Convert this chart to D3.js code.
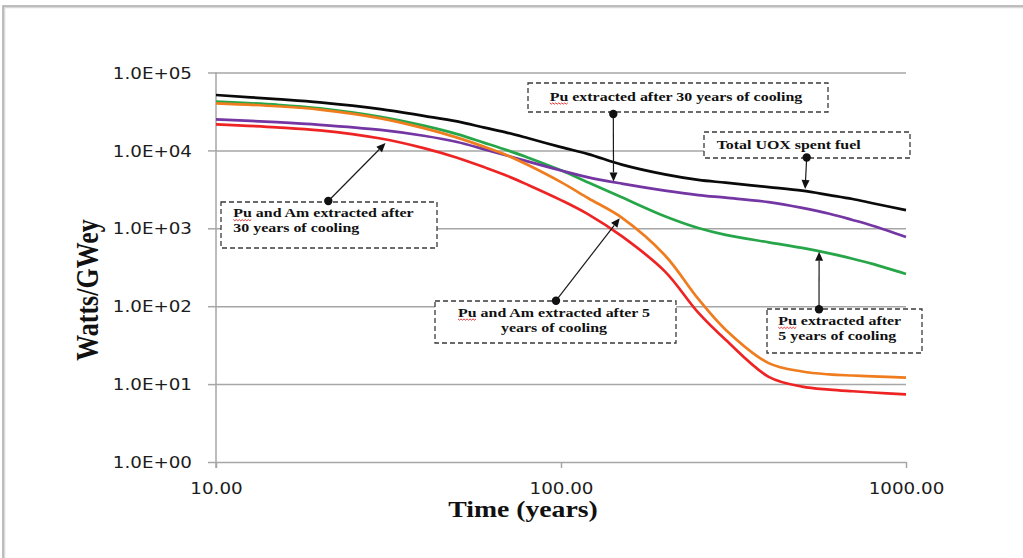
<!DOCTYPE html>
<html>
<head>
<meta charset="utf-8">
<script src="https://cdn.jsdelivr.net/npm/d3@7"></script>
<style>
  html, body { margin: 0; padding: 0; background: #ffffff; }
  svg { display: block; }
</style>
</head>
<body>
<script>
// Decay heat of UOX spent fuel (Watts/GWey) versus time after discharge.
const years = [10, 15, 20, 30, 40, 50, 60, 70, 80, 100, 120, 150, 200, 250, 300, 400, 500, 600, 700, 800, 1000];

const totalUOX   = [51400, 45500, 41300, 33900, 27800, 23600, 19600, 16800, 14400, 11000, 8970, 6570, 4920, 4180, 3850, 3380, 3040, 2670, 2380, 2100, 1710];
const pu5        = [42400, 38600, 34700, 27000, 20800, 16200, 12500, 10000, 8130, 5550, 3860, 2500, 1430, 1010, 825, 661, 560, 477, 407, 349, 259];
const pu30       = [25000, 23000, 21300, 18300, 15400, 12800, 10300, 8550, 7220, 5520, 4510, 3750, 3050, 2670, 2470, 2170, 1830, 1540, 1280, 1080, 775];
const puAm5      = [40200, 36900, 33400, 25800, 19300, 14600, 11100, 8600, 6530, 3910, 2430, 1370, 451, 124, 50.0, 18.6, 14.5, 13.3, 12.9, 12.6, 12.1];
const puAm30     = [21600, 19800, 18100, 14200, 10700, 8060, 6060, 4690, 3630, 2300, 1510, 792, 280, 82.5, 37.0, 12.4, 9.29, 8.50, 8.10, 7.80, 7.37];

const xTicks = [10, 100, 1000];
const xTickLabels = ["10.00", "100.00", "1000.00"];
const yTicks = [1, 10, 100, 1000, 10000, 100000];
const yTickLabels = ["1.0E+00", "1.0E+01", "1.0E+02", "1.0E+03", "1.0E+04", "1.0E+05"];

const xTitle = "Time (years)";
const yTitle = "Watts/GWey";

// Callout boxes: label lines and the point (time, value) each arrow points to.
const noteLines = [
  ["Pu extracted after 30 years of cooling"],
  ["Total UOX spent fuel"],
  ["Pu and Am extracted after", "30 years of cooling"],
  ["Pu and Am extracted after 5", "years of cooling"],
  ["Pu extracted after", "5 years of cooling"]
];
const noteTargetYears  = [142, 510, 31, 148, 560];
const noteTargetValues = [4000, 3200, 12400, 1350, 500];

// ---- layout ----
const W = 1023, H = 558;
const SX = 1.18;               // horizontal text stretch
const GRID = "#a6a6a6";
const TICK_FONT = "'DejaVu Sans', Verdana, sans-serif";
const SERIF = "'Liberation Serif', 'Times New Roman', serif";

const noteLayout = [
  { box: [528, 83, 300, 29],  anchor: "middle", tx: 676,   ty: [100.7],        dot: [613.3, 114] },
  { box: [704, 132, 206, 26], anchor: "start",  tx: 716.7, ty: [149.3],        dot: [806.7, 157.5] },
  { box: [221, 202, 216, 46], anchor: "start",  tx: 233.3, ty: [217.3, 231.7], dot: [328.3, 201] },
  { box: [435, 301, 241, 42], anchor: "middle", tx: 554,   ty: [316.7, 331.7], dot: [556, 300.7] },
  { box: [767, 309, 155, 44], anchor: "start",  tx: 778.3, ty: [325, 340],     dot: [819, 309.3] }
];

const svg = d3.select("body").append("svg").attr("width", W).attr("height", H);
svg.append("rect").attr("width", W).attr("height", H).attr("fill", "#fff");

// outer frame (top and left edges)
svg.append("path").attr("d", `M4.5,${H} V7.5 H${W}`).attr("fill", "none").attr("stroke", "#d9d9d9").attr("stroke-width", 1.5);
svg.append("path").attr("d", `M3,${H} V6 H${W}`).attr("fill", "none").attr("stroke", "#a9a9a9").attr("stroke-width", 1.5);

const x = d3.scaleLog().domain([10, 1000]).range([216, 906]);
const y = d3.scaleLog().domain([1, 1e5]).range([462, 72.5]);

// horizontal gridlines
const grid = svg.append("g").attr("transform", `translate(${x(10)},0)`)
  .call(d3.axisLeft(y).tickValues(yTicks.slice(1)).tickSize(-(x(1000) - x(10))).tickFormat(""));
grid.select(".domain").remove();
grid.selectAll("line").attr("stroke", GRID).attr("stroke-width", 1.5);

// y axis
const yAxis = svg.append("g").attr("transform", `translate(${x(10)},0)`)
  .call(d3.axisLeft(y).tickValues(yTicks).tickSize(8).tickSizeOuter(0).tickFormat((d, i) => yTickLabels[i]));
yAxis.select(".domain").remove();
yAxis.selectAll("line").attr("stroke", GRID).attr("stroke-width", 1.5);
yAxis.selectAll("text")
  .attr("x", null).attr("dy", null)
  .attr("transform", "translate(-24,5.6) scale(" + SX + ",1)")
  .attr("text-anchor", "end")
  .attr("fill", "#1c1c1c")
  .style("font-family", TICK_FONT).style("font-size", "15.5px");

// vertical axis line
svg.append("line")
  .attr("x1", x(10)).attr("x2", x(10)).attr("y1", y(1e5)).attr("y2", y(1) + 6)
  .attr("stroke", GRID).attr("stroke-width", 1.5);

// x axis
const xAxis = svg.append("g").attr("transform", `translate(0,${y(1)})`)
  .call(d3.axisBottom(x).tickValues(xTicks).tickSize(6).tickSizeOuter(0).tickFormat((d, i) => xTickLabels[i]));
xAxis.select(".domain").attr("stroke", GRID).attr("stroke-width", 1.5);
xAxis.selectAll("line").attr("stroke", GRID).attr("stroke-width", 1.5);
xAxis.selectAll("text")
  .attr("y", null).attr("dy", null)
  .attr("transform", "translate(0,31.5) scale(" + SX + ",1)")
  .attr("fill", "#1c1c1c")
  .style("font-family", TICK_FONT).style("font-size", "15.5px");

// axis titles
svg.append("text")
  .attr("transform", `translate(523,516.7) scale(${SX},1)`)
  .attr("text-anchor", "middle")
  .style("font-family", SERIF).style("font-weight", "bold").style("font-size", "23.5px")
  .attr("fill", "#111")
  .text(xTitle);
svg.append("text")
  .attr("transform", `translate(98,290) scale(${SX},1) rotate(-90)`)
  .attr("text-anchor", "middle")
  .style("font-family", SERIF).style("font-weight", "bold").style("font-size", "26px")
  .attr("fill", "#111")
  .text(yTitle);

// curves
const series = [
  { values: totalUOX, color: "#0a0a0a" },
  { values: pu5,      color: "#27a649" },
  { values: pu30,     color: "#7436a3" },
  { values: puAm5,    color: "#ef7d1f" },
  { values: puAm30,   color: "#ee2424" }
];
const line = d3.line()
  .x((d, i) => x(years[i]))
  .y(d => y(d))
  .curve(d3.curveCatmullRom.alpha(0.5));
svg.append("g").selectAll("path").data(series).join("path")
  .attr("d", s => line(s.values))
  .attr("fill", "none")
  .attr("stroke", s => s.color)
  .attr("stroke-width", 2.7)
  .attr("stroke-linejoin", "round");

// callouts
const notes = svg.append("g");
noteLayout.forEach((n, k) => {
  const [bx, by, bw, bh] = n.box;
  notes.append("rect")
    .attr("x", bx).attr("y", by).attr("width", bw).attr("height", bh)
    .attr("fill", "#fff").attr("stroke", "#3a3a3a").attr("stroke-width", 1.3)
    .attr("stroke-dasharray", "5,3");

  noteLines[k].forEach((str, j) => {
    const t = notes.append("text")
      .attr("transform", `translate(${n.tx},${n.ty[j]}) scale(${SX},1)`)
      .attr("text-anchor", n.anchor)
      .style("font-family", SERIF).style("font-weight", "bold").style("font-size", "13.5px")
      .attr("fill", "#111")
      .text(str);
    if (str.startsWith("Pu ")) {
      // red wavy spell-check underline below "Pu"
      const full = t.node().getComputedTextLength() * SX;
      const puW = t.node().getSubStringLength(0, 2) * SX;
      const x0 = n.anchor === "middle" ? n.tx - full / 2 : n.tx;
      const yb = n.ty[j] + 2.2;
      let d = `M${x0},${yb}`;
      let up = true;
      for (let xx = x0 + 1.5; xx <= x0 + puW + 0.1; xx += 1.5) {
        d += ` L${xx},${up ? yb + 1.3 : yb}`;
        up = !up;
      }
      notes.append("path").attr("d", d).attr("fill", "none").attr("stroke", "#e02020").attr("stroke-width", 0.9);
    }
  });

  // arrow from the dot on the box to the curve
  const [dx, dy] = n.dot;
  const tx = x(noteTargetYears[k]), ty = y(noteTargetValues[k]);
  const len = Math.hypot(tx - dx, ty - dy);
  const ux = (tx - dx) / len, uy = (ty - dy) / len;
  const hl = 9, hw = 4;
  const bxp = tx - ux * hl, byp = ty - uy * hl;
  notes.append("line")
    .attr("x1", dx).attr("y1", dy).attr("x2", bxp).attr("y2", byp)
    .attr("stroke", "#1a1a1a").attr("stroke-width", 1.2);
  notes.append("path")
    .attr("d", `M${tx},${ty} L${bxp - uy * hw},${byp + ux * hw} L${bxp + uy * hw},${byp - ux * hw} Z`)
    .attr("fill", "#111");
  notes.append("circle").attr("cx", dx).attr("cy", dy).attr("r", 4.2).attr("fill", "#111");
});
</script>
</body>
</html>
